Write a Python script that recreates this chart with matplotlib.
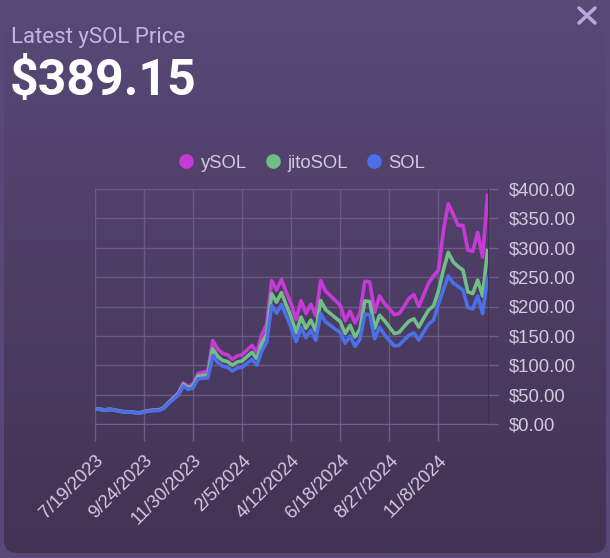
import numpy as np
import matplotlib.pyplot as plt
from matplotlib.patches import FancyBboxPatch
from matplotlib.lines import Line2D

# valores (um ponto a cada ~5px)
ysol = [26, 25, 24, 25, 24, 22, 21, 21, 20, 19,
        21, 23, 24, 24, 28, 37, 45, 53, 70, 64,
        68, 86, 88, 90, 142, 128, 120, 118, 110, 116,
        118, 126, 134, 122, 152, 170, 244, 228, 246, 224,
        204, 178, 210, 188, 204, 184, 244, 226, 218, 210,
        202, 176, 192, 172, 189, 243, 242, 190, 218, 205,
        196, 186, 188, 200, 214, 220, 200, 220, 240, 252,
        262, 328, 375, 357, 338, 338, 296, 294, 326, 284, 389]
jitosol = [26.0, 25.0, 23.9, 25.0, 24.0, 21.8, 20.8, 20.8, 19.6, 18.8,
           20.6, 22.5, 23.3, 23.6, 27.2, 35.9, 43.7, 51.5, 67.4, 61.7,
           64.9, 81.4, 82.6, 83.7, 128.0, 115.4, 108.2, 106.4, 100.1, 105.5,
           107.4, 114.7, 121.9, 111.0, 137.1, 153.3, 221.8, 207.3, 223.6, 202.0,
           181.2, 155.6, 182.1, 163.0, 176.9, 158.3, 210.2, 194.7, 187.8, 180.9,
           174.0, 154.0, 168.0, 148.2, 161.6, 209.3, 208.5, 163.0, 185.0, 176.0,
           165.0, 154.0, 156.0, 166.0, 175.0, 179.0, 165.0, 180.0, 194.0, 201.0,
           226.0, 262.0, 292.0, 276.0, 268.0, 262.0, 225.0, 222.0, 245.0, 218.0, 295.0]
sol = [26.0, 25.0, 23.8, 24.8, 23.8, 21.6, 20.6, 20.6, 19.4, 18.4,
       20.2, 22.1, 22.9, 22.9, 26.4, 34.9, 42.1, 49.5, 64.8, 58.7,
       61.8, 76.8, 77.9, 78.3, 116.4, 104.9, 98.4, 96.7, 90.2, 95.1,
       96.7, 103.3, 109.8, 100.0, 124.6, 139.3, 201.7, 188.4, 203.3, 183.6,
       163.2, 140.2, 164.1, 146.9, 159.4, 142.6, 187.7, 173.8, 167.7, 161.5,
       155.4, 137.5, 150.0, 132.3, 144.3, 186.9, 186.2, 145.0, 165.0, 152.0,
       142.0, 133.0, 134.0, 143.0, 151.0, 155.0, 143.0, 157.0, 170.0, 177.0,
       204.0, 228.0, 252.0, 240.0, 234.0, 228.0, 198.0, 196.0, 218.0, 188.0, 249.0]
datas = ["7/19/2023", "9/24/2023", "11/30/2023", "2/5/2024",
         "4/12/2024", "6/18/2024", "8/27/2024", "11/8/2024"]
yticks = [0, 50, 100, 150, 200, 250, 300, 350, 400]

series = [("ySOL", ysol, "#c63bd6"), ("jitoSOL", jitosol, "#6fbf87"), ("SOL", sol, "#4a6fe6")]

fig = plt.figure(figsize=(6.10, 5.58), dpi=100)
fig.patch.set_facecolor("#584877")

# fundo do cartão com degradê
bg = fig.add_axes([0, 0, 1, 1], zorder=-10)
bg.set_xlim(0, 610)
bg.set_ylim(558, 0)
bg.axis("off")
grad = np.linspace(0, 1, 256)[:, None]
c_top = np.array([0x59, 0x49, 0x78]) / 255
c_bot = np.array([0x42, 0x33, 0x54]) / 255
img = c_top + (c_bot - c_top) * grad[..., None]
im = bg.imshow(img, extent=[0, 610, 553, -20], aspect="auto")
card = FancyBboxPatch((4, -20), 602, 573, boxstyle="round,pad=0,rounding_size=13",
                      transform=bg.transData, facecolor="none", edgecolor="none")
bg.add_patch(card)
im.set_clip_path(card)

fig.text(11 / 610, 1 - 37 / 558, "Latest ySOL Price", color="#c3b3e2",
         fontsize=16, family="Roboto", va="center")
fig.text(10 / 610, 1 - 81 / 558, "$389.15", color="white", fontsize=36,
         family="Roboto", weight="bold", va="center")

# botão fechar
for xs, ys in [((579, 595), (8, 23)), ((579, 595), (23, 8))]:
    fig.add_artist(Line2D([x / 610 for x in xs], [1 - y / 558 for y in ys],
                          color="#b9a6dc", lw=2.6, solid_capstyle="round"))

ax = fig.add_axes([95 / 610, 1 - 424 / 558, 392.5 / 610, 235 / 558])
ax.set_facecolor("none")
x = np.arange(len(ysol))
for nome, vals, cor in series:
    ax.plot(x, vals, color=cor, lw=2.6, label=nome, zorder=3)

ax.set_xlim(0, len(ysol) - 1)
ax.set_ylim(0, 400)
ax.yaxis.tick_right()
ax.set_yticks(yticks)
ax.set_yticklabels([f"${v:.2f}" for v in yticks])
ax.set_xticks(np.arange(len(datas)) * 10)
ax.set_xticklabels(datas, rotation=45, ha="right", rotation_mode="anchor")
ax.grid(True, color="#6e5e8a", lw=1.0, alpha=0.85)
ax.tick_params(axis="both", colors="#6e5e8a", labelcolor="#d3cadf",
               labelsize=13.3, length=7, width=1.0)
ax.tick_params(axis="y", pad=8)
ax.tick_params(axis="x", length=12, pad=8)
for lab in ax.get_xticklabels() + ax.get_yticklabels():
    lab.set_family("Liberation Sans")
for s in ["top", "left"]:
    ax.spines[s].set_visible(False)
ax.spines["bottom"].set_color("#6e5e8a")
ax.spines["right"].set_color("#3d3050")

handles = [Line2D([], [], marker="o", ls="none", markersize=9.5, color=c) for _, _, c in series]
leg = fig.legend(handles, [n for n, _, _ in series], loc="center", ncol=3,
                 bbox_to_anchor=(302 / 610, 1 - 163 / 558), frameon=False,
                 handlelength=0.8, handletextpad=0.4, columnspacing=1.0,
                 prop={"family": "Liberation Sans", "size": 13.3})
for t in leg.get_texts():
    t.set_color("#d3cadf")

fig.savefig("out.png", dpi=100, facecolor=fig.get_facecolor())
